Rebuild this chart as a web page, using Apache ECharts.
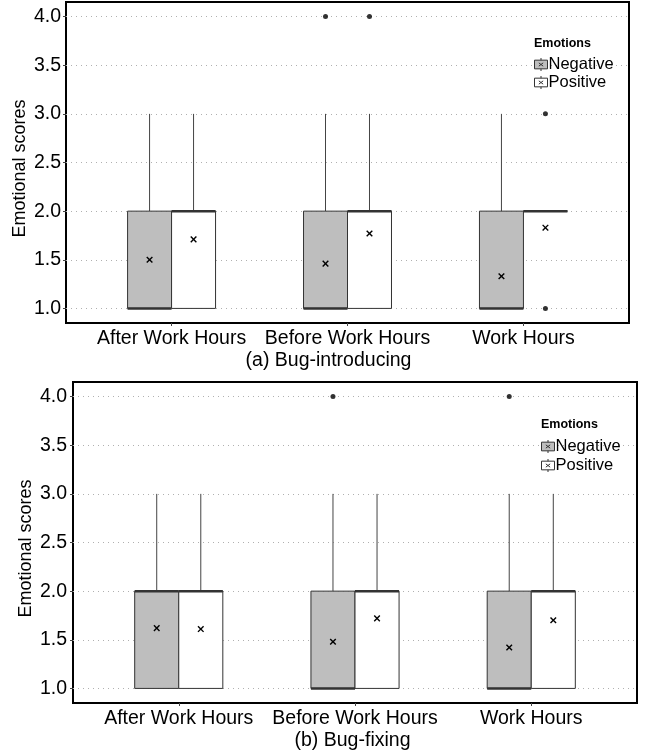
<!DOCTYPE html>
<html><head><meta charset="utf-8">
<script src="https://cdn.jsdelivr.net/npm/echarts@6/dist/echarts.min.js"></script>
<style>html,body{margin:0;padding:0;background:#fff}#c{width:649px;height:751px}</style>
</head><body><div id="c"></div>
<script>
// ---------- data ----------
const categories = ['After Work Hours', 'Before Work Hours', 'Work Hours'];
const emotions = ['Negative', 'Positive'];
const yTicks = [1.0, 1.5, 2.0, 2.5, 3.0, 3.5, 4.0];
const panelTitles = ['(a) Bug-introducing', '(b) Bug-fixing'];
// box stats per category: [lower whisker, Q1, median, Q3, upper whisker]
const introNegative = [[1,1,1,2,3],[1,1,1,2,3],[1,1,1,2,3]];
const introPositive = [[1,1,2,2,3],[1,1,2,2,3],[2,2,2,2,2]];
const introNegativeMean = [1.50, 1.46, 1.33];
const introPositiveMean = [1.71, 1.77, 1.83];
// outliers: [category index, value]
const introNegativeOutliers = [[1,4]];
const introPositiveOutliers = [[1,4],[2,1],[2,3]];
const fixNegative = [[1,1,2,2,3],[1,1,1,2,3],[1,1,1,2,3]];
const fixPositive = [[1,1,2,2,3],[1,1,2,2,3],[1,1,2,2,3]];
const fixNegativeMean = [1.62, 1.48, 1.42];
const fixPositiveMean = [1.61, 1.72, 1.70];
const fixNegativeOutliers = [[1,4],[2,4]];
const fixPositiveOutliers = [];

// ---------- style ----------
const FONT = "'Liberation Sans', Arial, Helvetica, sans-serif";
const FILL = { Negative: '#bebebe', Positive: '#ffffff' };
const DODGE = { Negative: -0.125, Positive: 0.125 };
const BOXW = 0.25;

const panels = [
  { stats: { Negative: introNegative, Positive: introPositive },
    means: { Negative: introNegativeMean, Positive: introPositiveMean },
    outliers: { Negative: introNegativeOutliers, Positive: introPositiveOutliers } },
  { stats: { Negative: fixNegative, Positive: fixPositive },
    means: { Negative: fixNegativeMean, Positive: fixPositiveMean },
    outliers: { Negative: fixNegativeOutliers, Positive: fixPositiveOutliers } }
];

function makeRender(dodge, fill) {
  return function (params, api) {
    const xv = api.value(0) + dodge;
    const lo = api.value(1), q1 = api.value(2), med = api.value(3), q3 = api.value(4), hi = api.value(5), mean = api.value(6);
    const cx = api.coord([xv, lo])[0];
    const w = api.size([BOXW, 0])[0];
    const y = v => api.coord([xv, v])[1];
    const ch = [];
    const ws = { stroke: '#444', lineWidth: 1 };
    if (hi > q3) ch.push({ type: 'line', shape: { x1: cx, y1: y(q3), x2: cx, y2: y(hi) }, style: ws });
    if (lo < q1) ch.push({ type: 'line', shape: { x1: cx, y1: y(lo), x2: cx, y2: y(q1) }, style: ws });
    ch.push({ type: 'rect', shape: { x: cx - w / 2, y: y(q3), width: w, height: y(q1) - y(q3) },
      style: { fill: fill, stroke: '#333', lineWidth: 1 } });
    ch.push({ type: 'line', shape: { x1: cx - w / 2, y1: y(med), x2: cx + w / 2, y2: y(med) },
      style: { stroke: '#333', lineWidth: 2.5 } });
    const ym = y(mean), s = 2.8;
    const ms = { stroke: '#000', lineWidth: 1.4 };
    ch.push({ type: 'line', shape: { x1: cx - s, y1: ym - s, x2: cx + s, y2: ym + s }, style: ms });
    ch.push({ type: 'line', shape: { x1: cx - s, y1: ym + s, x2: cx + s, y2: ym - s }, style: ms });
    return { type: 'group', children: ch };
  };
}

const grids = [
  { left: 66, top: 2, width: 563, height: 321 },
  { left: 73, top: 382, width: 564, height: 321 }
];
const xAxes = [], yAxes = [], series = [], legends = [], graphics = [];
const ICON = 'path://M0,2H12V10H0Z M6,0V2 M6,10V12 M4,4.5L8,7.5 M8,4.5L4,7.5';

panels.forEach((p, gi) => {
  xAxes.push({
    type: 'value', gridIndex: gi, min: 0.4, max: 3.6,
    axisLine: { show: false },
    axisTick: { customValues: [1, 2, 3], length: 3, lineStyle: { color: '#444' } },
    axisLabel: { customValues: [1, 2, 3], formatter: v => categories[Math.round(v) - 1],
      fontSize: 19.5, color: '#000', margin: 6, fontFamily: FONT },
    splitLine: { show: false }
  });
  yAxes.push({
    type: 'value', gridIndex: gi, min: 0.85, max: 4.15,
    name: 'Emotional scores', nameLocation: 'middle', nameGap: gi === 0 ? 37 : 38,
    nameMoveOverlap: false,
    nameTextStyle: { fontSize: 18, color: '#000', fontFamily: FONT, padding: [0, 12, 0, 0] },
    axisLine: { show: false },
    axisTick: { customValues: yTicks, length: 3, lineStyle: { color: '#444' } },
    axisLabel: { customValues: yTicks, formatter: v => v.toFixed(1), fontSize: 19.5, color: '#000',
      margin: gi === 0 ? 5 : 6, fontFamily: FONT },
    splitLine: { show: true, lineStyle: { color: '#b0b0b0', width: 1, type: [1, 4] } }
  });
  emotions.forEach(em => {
    const data = categories.map((c, i) => [i + 1].concat(p.stats[em][i], [p.means[em][i]]));
    series.push({
      type: 'custom', name: em, xAxisIndex: gi, yAxisIndex: gi,
      itemStyle: { color: FILL[em], borderColor: '#333' },
      renderItem: makeRender(DODGE[em], FILL[em]),
      encode: { x: 0, y: [1, 2, 3, 4, 5] },
      data: data, z: 2
    });
    series.push({
      type: 'scatter', name: em + ' outliers', xAxisIndex: gi, yAxisIndex: gi,
      symbol: 'circle', symbolSize: 5, itemStyle: { color: '#000' },
      data: p.outliers[em].map(o => [o[0] + 1 + DODGE[em], o[1]]), z: 3
    });
  });
});

const legendText = { fontSize: 16.5, color: '#000', fontFamily: FONT, padding: [0, 0, 0, -4] };
legends.push({
  left: 534, top: 56, orient: 'vertical', itemWidth: 13, itemHeight: 13, itemGap: 1, padding: 0,
  textStyle: legendText,
  data: emotions.map(em => ({ name: em, icon: ICON, itemStyle: { color: FILL[em], borderColor: '#333', borderWidth: 1 } }))
});
legends.push({
  left: 541, top: 438, orient: 'vertical', itemWidth: 13, itemHeight: 13, itemGap: 2, padding: 0,
  textStyle: legendText,
  data: emotions.map(em => ({ name: em, icon: ICON, itemStyle: { color: FILL[em], borderColor: '#333', borderWidth: 1 } }))
});

graphics.push(
  { type: 'text', left: 534, top: 37, style: { text: 'Emotions', font: "bold 12.5px " + FONT, fill: '#000' } },
  { type: 'text', left: 541, top: 418, style: { text: 'Emotions', font: "bold 12.5px " + FONT, fill: '#000' } },
  { type: 'text', x: 328.5, y: 361, style: { text: panelTitles[0], font: "19.5px " + FONT, fill: '#000', textAlign: 'center', textVerticalAlign: 'middle' } },
  { type: 'text', x: 352.5, y: 741, style: { text: panelTitles[1], font: "19.5px " + FONT, fill: '#000', textAlign: 'center', textVerticalAlign: 'middle' } }
);

const chart = echarts.init(document.getElementById('c'));
chart.setOption({
  animation: false,
  backgroundColor: '#fff',
  textStyle: { fontFamily: FONT },
  grid: grids.map(g => Object.assign({ show: true, borderColor: '#000', borderWidth: 2, backgroundColor: 'transparent' }, g)),
  xAxis: xAxes,
  yAxis: yAxes,
  legend: legends,
  graphic: graphics,
  series: series
});
</script>
</body></html>
